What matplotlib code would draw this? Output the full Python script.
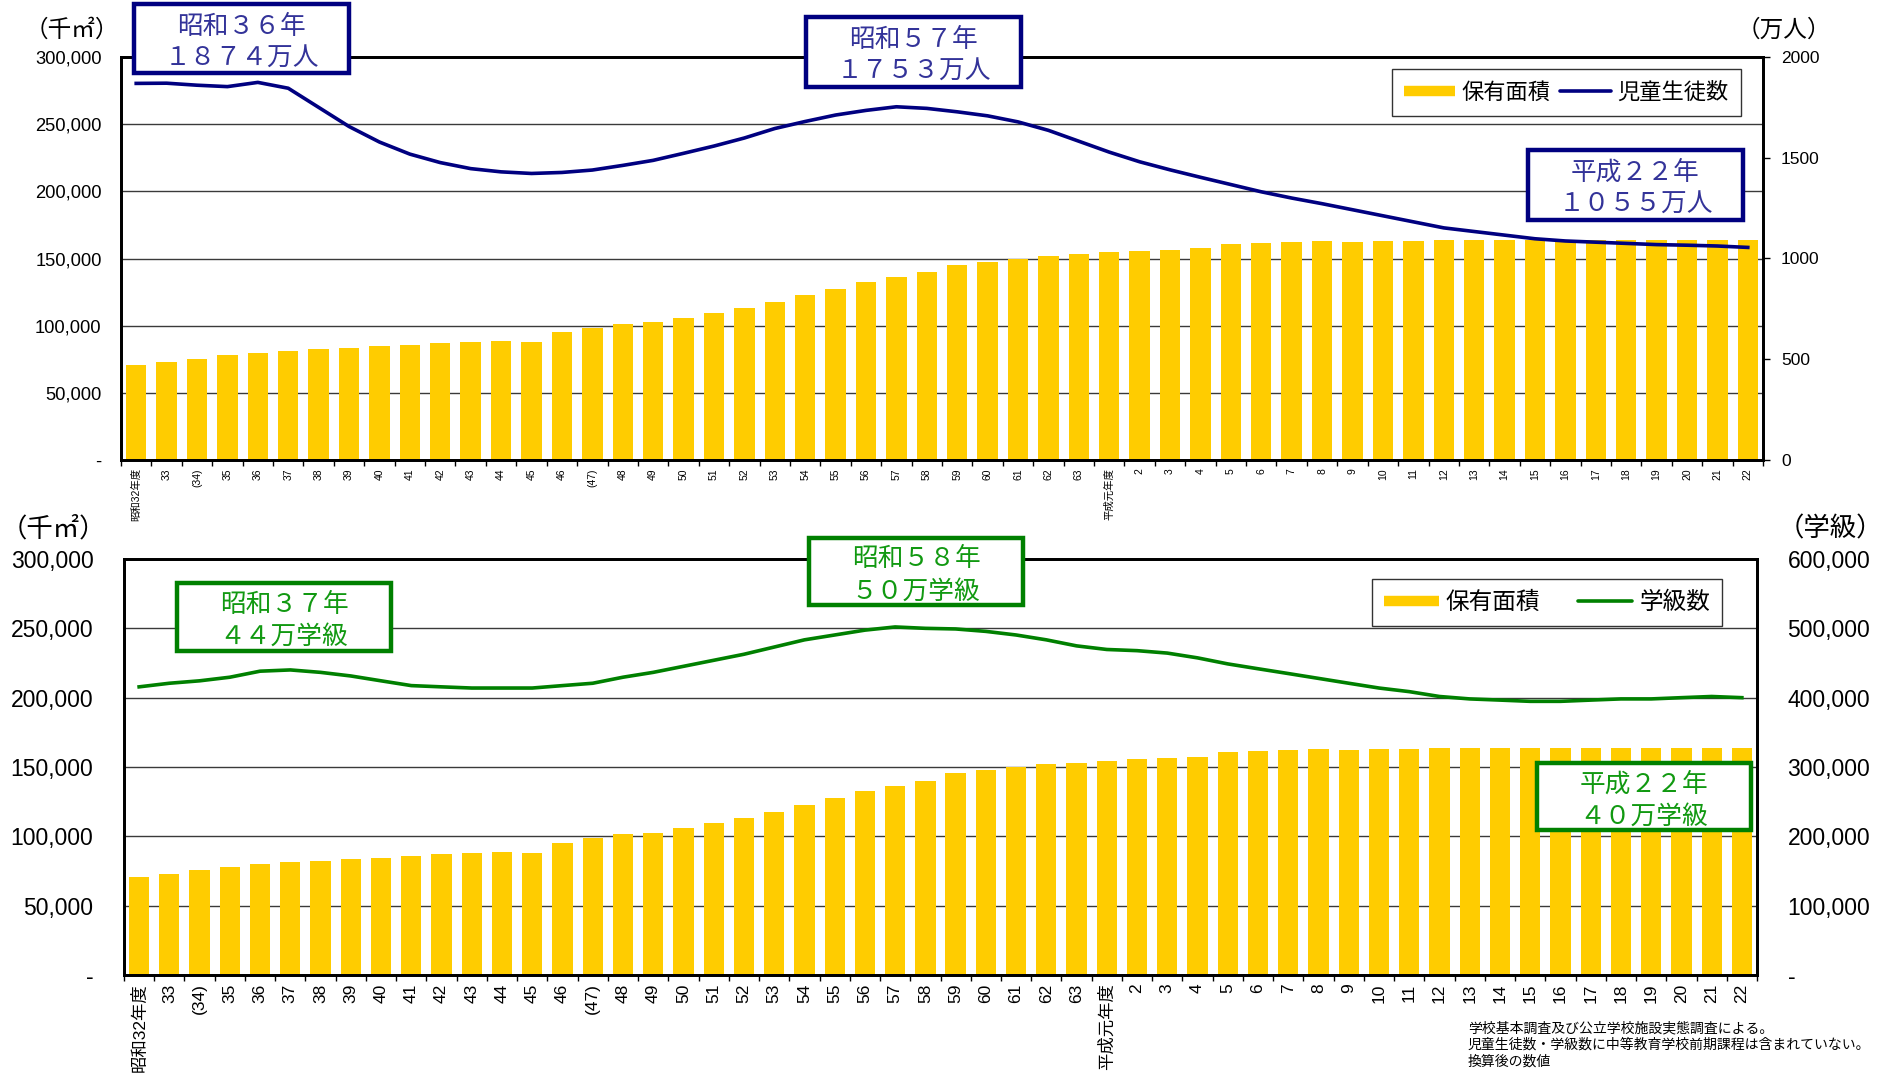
import matplotlib
matplotlib.use("Agg")
import matplotlib.pyplot as plt
from matplotlib.patches import Rectangle
from matplotlib.lines import Line2D
import numpy as np

plt.rcParams['font.family'] = ['Liberation Sans', 'Noto Sans CJK JP', 'DejaVu Sans']

# ---- data -------------------------------------------------------------
year_labels = (["昭和32年度", "33", "(34)"] + [str(y) for y in range(35, 47)] + ["(47)"]
               + [str(y) for y in range(48, 64)] + ["平成元年度"]
               + [str(y) for y in range(2, 23)])

# 保有面積 (千㎡)
floor_area = [71000, 73000, 75500, 78000, 80000, 81500, 82500, 83500, 84500, 85500,
              87000, 88000, 88500, 88000, 95000, 98500, 101500, 102500, 106000, 109500,
              113000, 117500, 122500, 127500, 132500, 136500, 140000, 145500, 147500, 150000,
              152000, 153000, 154500, 155500, 156500, 157500, 160500, 161500, 162000, 163000,
              162500, 163000, 163000, 163500, 163500, 163500, 164000, 164000, 163500, 163500,
              163500, 163500, 163500, 163500]

# 児童生徒数 (万人)
students = [1869, 1870, 1860, 1853, 1874, 1845, 1750, 1655, 1578, 1518,
            1476, 1446, 1430, 1422, 1427, 1439, 1462, 1487, 1522, 1558,
            1598, 1645, 1680, 1712, 1735, 1753, 1745, 1728, 1708, 1678,
            1636, 1582, 1528, 1480, 1440, 1403, 1367, 1331, 1300, 1272,
            1242, 1212, 1182, 1152, 1134, 1116, 1098, 1087, 1081, 1075,
            1069, 1066, 1062, 1055]

# 学級数
classes = [415600, 420800, 424300, 429500, 438200, 440000, 436500, 431300, 424300, 417400,
           415600, 413900, 413900, 413900, 417400, 420800, 429500, 436500, 445200, 453900,
           462600, 473000, 483400, 490400, 497400, 502000, 500000, 499100, 495600, 490400,
           483400, 474700, 469500, 467800, 464300, 457400, 448700, 441700, 434800, 427800,
           420800, 413900, 408700, 401700, 398200, 396500, 394700, 394700, 396500, 398200,
           398200, 400000, 401700, 400000]

area_ticks = [0, 50000, 100000, 150000, 200000, 250000, 300000]
area_ticklabels = ["-", "50,000", "100,000", "150,000", "200,000", "250,000", "300,000"]
student_ticks = [0, 500, 1000, 1500, 2000]
class_ticks = [0, 100000, 200000, 300000, 400000, 500000, 600000]
class_ticklabels = ["-", "100,000", "200,000", "300,000", "400,000", "500,000", "600,000"]

BAR = "#FFCC00"
NAVY = "#000080"
GREEN = "#008000"
CJK = ['Noto Sans CJK JP', 'DejaVu Sans']

W, H = 1887, 1075
fig = plt.figure(figsize=(W / 100, H / 100), dpi=100)


def px_rect(x0, y0, x1, y1):
    return [x0 / W, 1 - y1 / H, (x1 - x0) / W, (y1 - y0) / H]


x = np.arange(len(year_labels))


def base_axes(rect, tick_fs, ylab_fs, ypad):
    ax = fig.add_axes(rect)
    ax.bar(x, floor_area, width=0.67, color=BAR, zorder=2)
    ax.set_xlim(-0.5, len(x) - 0.5)
    ax.set_ylim(0, 300000)
    ax.set_yticks(area_ticks)
    ax.set_yticklabels(area_ticklabels, fontsize=ylab_fs)
    ax.tick_params(axis='y', length=0, pad=ypad)
    ax.set_xticks(x)
    ax.set_xticklabels(year_labels, rotation=90, fontsize=tick_fs, va='top', ha='center')
    ax.tick_params(axis='x', which='major', length=0, pad=6)
    ax.set_xticks(np.arange(len(x) + 1) - 0.5, minor=True)
    ax.tick_params(axis='x', which='minor', length=4, width=1, direction='out')
    ax.grid(axis='y', color='#3a3a3a', linewidth=1.0, zorder=0)
    ax.set_axisbelow(True)
    for s in ax.spines.values():
        s.set_linewidth(2.0)
        s.set_color('black')
    return ax


def label_box(x0, y0, x1, y1, lines, edge, tcolor, fs):
    fig.patches.append(Rectangle((x0 / W, 1 - y1 / H), (x1 - x0) / W, (y1 - y0) / H,
                                 transform=fig.transFigure, facecolor='white',
                                 edgecolor=edge, linewidth=3.2, zorder=10))
    fig.text((x0 + x1) / 2 / W, 1 - ((y0 + y1) / 2 + 4) / H, lines, ha='center', va='center',
             fontsize=fs, color=tcolor, linespacing=1.3, zorder=11, family=CJK)


def make_legend(ax, handles, labels, anchor, fs, colspace, bpad):
    leg = ax.legend(handles, labels, ncol=2, loc='upper right',
                    bbox_to_anchor=anchor, bbox_transform=fig.transFigure,
                    frameon=True, fancybox=False, framealpha=1, edgecolor='#333333',
                    handlelength=2.3, handletextpad=0.3, columnspacing=colspace,
                    borderpad=bpad, borderaxespad=0,
                    prop={'family': CJK, 'size': fs})
    leg.get_frame().set_linewidth(1.0)
    return leg


# ---- upper panel: 児童生徒数 ---------------------------------------------
ax1 = base_axes(px_rect(121, 57, 1763, 460), 7.5, 13.2, 14)
ax1b = ax1.twinx()
ax1b.plot(x, students, color=NAVY, linewidth=2.6, zorder=3)
ax1b.set_ylim(0, 2000)
ax1b.set_yticks(student_ticks)
ax1b.set_yticklabels([str(t) for t in student_ticks], fontsize=12.5)
ax1b.tick_params(axis='y', length=5, width=1, pad=8)
for s in ax1b.spines.values():
    s.set_linewidth(2.0)

h1 = [Line2D([], [], color=BAR, linewidth=7.5, solid_capstyle='butt'),
      Line2D([], [], color=NAVY, linewidth=2.6, solid_capstyle='round')]
make_legend(ax1b, h1, ["保有面積", "児童生徒数"], (1741 / W, 1 - 69 / H), 16.0, 0.4, 0.55)

fig.text(72 / W, 1 - 30 / H, "（千㎡）", ha='center', va='center', fontsize=17, family=CJK)
fig.text(1784 / W, 1 - 30 / H, "（万人）", ha='center', va='center', fontsize=17, family=CJK)

label_box(134, 4, 349, 73, "昭和３６年\n１８７４万人", NAVY, "#333399", 18.5)
label_box(806, 17, 1021, 87, "昭和５７年\n１７５３万人", NAVY, "#333399", 18.5)
label_box(1528, 150, 1743, 220, "平成２２年\n１０５５万人", NAVY, "#333399", 18.5)

# ---- lower panel: 学級数 ---------------------------------------------------
ax2 = base_axes(px_rect(124, 559, 1757, 975), 12.5, 16.5, 22)
ax2b = ax2.twinx()
ax2b.plot(x, classes, color=GREEN, linewidth=2.6, zorder=3)
ax2b.set_ylim(0, 600000)
ax2b.set_yticks(class_ticks)
ax2b.set_yticklabels(class_ticklabels, fontsize=16.5)
ax2b.tick_params(axis='y', length=0, pad=22)
for s in ax2b.spines.values():
    s.set_linewidth(2.0)

h2 = [Line2D([], [], color=BAR, linewidth=7.5, solid_capstyle='butt'),
      Line2D([], [], color=GREEN, linewidth=2.6, solid_capstyle='round')]
make_legend(ax2b, h2, ["保有面積", "学級数"], (1722 / W, 1 - 579 / H), 17.0, 1.6, 0.5)

fig.text(53 / W, 1 - 529 / H, "（千㎡）", ha='center', va='center', fontsize=19, family=CJK)
fig.text(1830 / W, 1 - 529 / H, "（学級）", ha='center', va='center', fontsize=19, family=CJK)

label_box(177, 583, 391, 651, "昭和３７年\n４４万学級", GREEN, "#119911", 18.5)
label_box(809, 538, 1023, 605, "昭和５８年\n５０万学級", GREEN, "#119911", 18.5)
label_box(1537, 763, 1751, 830, "平成２２年\n４０万学級", GREEN, "#119911", 18.5)

# ---- notes -------------------------------------------------------------
notes = ["学校基本調査及び公立学校施設実態調査による。",
         "児童生徒数・学級数に中等教育学校前期課程は含まれていない。",
         "換算後の数値"]
for i, line in enumerate(notes):
    fig.text(1468 / W, 1 - (1028 + 17 * i) / H, line, ha='left', va='center',
             fontsize=10, family=CJK)

fig.savefig("out.png", dpi=100)
